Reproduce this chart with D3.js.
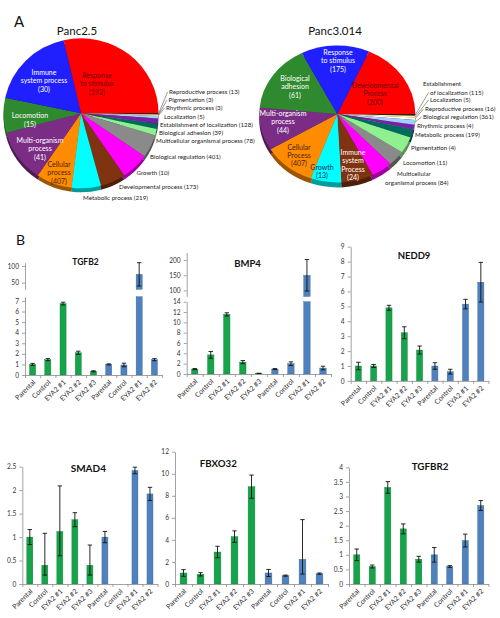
<!DOCTYPE html>
<html><head><meta charset="utf-8">
<script src="https://cdn.jsdelivr.net/npm/d3@7"></script>
<style>body{margin:0;background:#fff} svg{display:block} text{font-family:Lato,"Open Sans",sans-serif}</style>
</head><body><svg id="c" width="500" height="618"></svg>
<script>
// ================= DATA =================
// Panel A – GO biological process pies (slice shares in degrees, counts in labels)
const panc25Processes = ["Response to stimulus","Reproductive process","Pigmentation","Rhythmic process","Localization","Establishment of localization","Biological adhesion","Multicellular organismal process","Biological regulation","Growth","Developmental process","Metabolic process","Cellular process","Multi-organism process","Locomotion","Immune system process"];
const panc25Counts = [192,13,3,3,5,128,39,78,401,10,173,219,407,41,15,30];
const panc25Shares = [103,1,0.5,0.5,2,4,4,5,18,21,19,22,27,41,27,65];

const panc3Processes = ["Developmental Process","Establishment of localization","Localization","Reproductive process","Biological regulation","Rhythmic process","Metabolic process","Pigmentation","Locomotion","Multicellular organismal process","Immune system Process","Growth","Cellular Process","Multi-organism process","Biological adhesion","Response to stimulus"];
const panc3Counts = [200,115,5,16,361,4,199,4,11,84,24,13,407,44,61,175];
const panc3Shares = [66,1.5,1.5,2,4,4,7,14,13,16,24,23,39,36.5,57.5,51];

// Panel B – qPCR bar charts
const categories = ["Parental","Control","EYA2 #1","EYA2 #2","EYA2 #3","Parental","Control","EYA2 #1","EYA2 #2"];
const cellLine = ["green","green","green","green","green","blue","blue","blue","blue"];

const tgfb2Mean = [1.0,1.45,6.75,2.1,0.35,1.0,0.95,75,1.45];
const tgfb2Err  = [0.1,0.1,0.13,0.15,0.05,0.05,0.17,35,0.1];
const tgfb2Ticks = [0,1,2,3,4,5,6,7];
const tgfb2UpperTicks = [50,100];

const bmp4Mean = [0.95,3.7,11.55,2.3,0.1,0.95,2.0,150,1.15];
const bmp4Err  = [0.1,0.65,0.3,0.3,0.05,0.1,0.35,52,0.35];
const bmp4Ticks = [0,2,4,6,8,10,12,14];
const bmp4UpperTicks = [100,150,200];

const nedd9Mean = [1.0,1.0,4.9,3.23,2.07,1.0,0.62,5.15,6.62];
const nedd9Err  = [0.25,0.1,0.17,0.4,0.27,0.22,0.16,0.32,1.33];
const nedd9Ticks = [0,1,2,3,4,5,6,7,8,9];

const smad4Mean    = [1.0,0.4,1.12,1.37,0.4,1.0,null,2.42,1.92];
const smad4ErrUp   = [0.16,0.68,0.97,0.15,0.43,0.12,null,0.07,0.14];
const smad4ErrDown = [0.16,0.21,0.52,0.15,0.21,0.12,null,0.07,0.14];
const smad4Ticks = [0,0.5,1,1.5,2,2.5];

const fbxo32Mean    = [1.0,0.88,2.9,4.3,8.83,1.0,0.76,2.24,0.94];
const fbxo32ErrUp   = [0.3,0.15,0.52,0.52,1.05,0.32,0.05,3.6,0.06];
const fbxo32ErrDown = [0.3,0.15,0.52,0.52,1.05,0.32,0.05,1.34,0.06];
const fbxo32Ticks = [0,2,4,6,8,10,12];

const tgfbr2Mean = [1.0,0.6,3.31,1.89,0.85,1.0,0.6,1.49,2.69];
const tgfbr2Err  = [0.2,0.05,0.2,0.17,0.1,0.25,0.03,0.22,0.17];
const tgfbr2Ticks = [0,0.5,1,1.5,2,2.5,3,3.5,4];

// ================= STYLE =================
const palette = ["#ff0000","#222222","#ffff99","#ffffff","#9fd3ff","#7a1fa8","#006b5c","#8ff08f","#8a8a8a","#ff00ff","#7f3310","#00ffff","#ff8c00","#7b2d86","#2f8a2f","#1f1fff"];
const barColor = {green:"#17a34a", blue:"#4f81bd"};

const svg = d3.select("#c");

// ================= PIES =================
function wrapWords(str, counts){
  const w = str.split(" "); const out=[]; let k=0;
  for (const c of counts){ out.push(w.slice(k,k+c).join(" ")); k+=c; }
  if (k<w.length) out.push(w.slice(k).join(" "));
  return out;
}

function drawPie(cfg){
  const {names, counts, shares, startDeg, cx, cy, rx, ry, depth} = cfg;
  const pie = d3.pie().sort(null).value(d=>d)
    .startAngle(startDeg*Math.PI/180).endAngle((startDeg+360)*Math.PI/180);
  const arcs = pie(shares);
  const arc = d3.arc().innerRadius(0).outerRadius(rx);
  const sy = ry/rx;
  const sh = svg.append("g").attr("transform",`translate(${cx},${cy+depth}) scale(1,${sy})`);
  sh.selectAll("path").data(arcs).join("path").attr("d",arc)
    .attr("fill",(d,i)=>d3.color(palette[i]).darker(1.4));
  const g = svg.append("g").attr("transform",`translate(${cx},${cy}) scale(1,${sy})`);
  g.selectAll("path").data(arcs).join("path").attr("d",arc)
    .attr("fill",(d,i)=>palette[i]);

  const label = i => names[i] + " (" + counts[i] + ")";
  // internal labels
  cfg.inner.forEach(L=>{
    const lines = wrapWords(label(L.i), L.br);
    const lh = 8.4;
    const t = svg.append("text").attr("text-anchor","middle").attr("font-size",7)
      .attr("fill",L.fill);
    lines.forEach((s,k)=>{
      t.append("tspan").attr("x",L.x).attr("y",L.y + (k-(lines.length-1)/2)*lh + 2.4).text(s);
    });
  });
  // external labels
  cfg.outer.forEach(L=>{
    const lines = L.br ? wrapWords(label(L.i), L.br) : [label(L.i)];
    lines.forEach((s,k)=>{
      svg.append("text").attr("x",L.x[k]).attr("y",L.y + k*8.6 + 2.1)
        .attr("font-size",6.2).attr("fill","#222").text(s);
    });
    if (L.leader){
      const a = (arcs[L.i].startAngle+arcs[L.i].endAngle)/2;
      const px = cx + rx*Math.sin(a), py = cy - ry*Math.cos(a);
      svg.append("line").attr("x1",px).attr("y1",py)
        .attr("x2",L.x[L.leader-1]-1.5).attr("y2",L.y + (L.leader-1)*8.6)
        .attr("stroke","#555").attr("stroke-width",0.6);
    }
  });
}

svg.append("text").attr("x",14).attr("y",27).attr("font-size",15).attr("fill","#111").text("A");
svg.append("text").attr("x",77).attr("y",35).attr("font-size",11.5).attr("text-anchor","middle").attr("fill","#111").text("Panc2.5");
svg.append("text").attr("x",335).attr("y",34.5).attr("font-size",11.5).attr("text-anchor","middle").attr("fill","#111").text("Panc3.014");

drawPie({names:panc25Processes, counts:panc25Counts, shares:panc25Shares, startDeg:-13,
  cx:81, cy:113.3, rx:77.5, ry:75, depth:4,
  inner:[
    {i:0,  x:97, y:84,  br:[1,2,1], fill:"#6b0000"},
    {i:15, x:44, y:81,  br:[1,2,1], fill:"#ffffff"},
    {i:14, x:30, y:120, br:[1,1],   fill:"#ffffff"},
    {i:13, x:40, y:149, br:[1,1,1], fill:"#ffffff"},
    {i:12, x:59, y:173, br:[1,1,1], fill:"#4a2000"}
  ],
  outer:[
    {i:1, x:[169], y:92, leader:1},
    {i:2, x:[168.5], y:100, leader:1},
    {i:3, x:[166], y:108, leader:1},
    {i:4, x:[164], y:116.5},
    {i:5, x:[160], y:124.5},
    {i:6, x:[159], y:133},
    {i:7, x:[156], y:141},
    {i:8, x:[150], y:157},
    {i:9, x:[136.5], y:173},
    {i:10, x:[119], y:187},
    {i:11, x:[83], y:198}
  ]});

drawPie({names:panc3Processes, counts:panc3Counts, shares:panc3Shares, startDeg:24,
  cx:337.3, cy:114, rx:78, ry:68.5, depth:5,
  inner:[
    {i:15, x:338, y:61,  br:[1,2,1], fill:"#ffffff"},
    {i:14, x:295, y:87,  br:[1,1,1], fill:"#ffffff"},
    {i:0,  x:375, y:94,  br:[1,1,1], fill:"#6b0000"},
    {i:13, x:283, y:122, br:[1,1,1], fill:"#ffffff"},
    {i:12, x:299, y:155.5, br:[1,1,1], fill:"#4a2000"},
    {i:11, x:322, y:171.5, br:[1,1], fill:"#1a2a55"},
    {i:10, x:353, y:165, br:[1,1,1,1], fill:"#ffffff"}
  ],
  outer:[
    {i:1, x:[423,430], y:84, br:[1], leader:2},
    {i:2, x:[430], y:100, leader:1},
    {i:3, x:[425], y:109, leader:1},
    {i:4, x:[423], y:117, leader:1},
    {i:5, x:[417], y:126},
    {i:6, x:[415], y:135},
    {i:7, x:[411], y:148},
    {i:8, x:[403], y:163},
    {i:9, x:[397,385], y:174, br:[1]}
  ]});

// ================= BARS =================
svg.append("text").attr("x",16).attr("y",245).attr("font-size",14).attr("fill","#111").text("B");

const panels = [
  {title:"TGFB2", tsize:8.5, tx:85.5, ty:265, mean:tgfb2Mean, up:tgfb2Err, down:tgfb2Err,
   x0:25, x1:162, base:375, top:296.7, dom:[0,7.4], ticks:tgfb2Ticks,
   upper:{dom:[30,110], bottom:289.3, top:262.7, ticks:tgfb2UpperTicks}},
  {title:"BMP4", tsize:9.5, tx:247.5, ty:266.5, mean:bmp4Mean, up:bmp4Err, down:bmp4Err,
   x0:186.7, x1:331, base:374, top:301.7, dom:[0,14], ticks:bmp4Ticks,
   upper:{dom:[80,225], bottom:296.5, top:252.5, ticks:bmp4UpperTicks}},
  {title:"NEDD9", tsize:9.5, tx:414, ty:258.5, mean:nedd9Mean, up:nedd9Err, down:nedd9Err,
   x0:350.7, x1:488.5, base:380.9, top:246.7, dom:[0,9], ticks:nedd9Ticks},
  {title:"SMAD4", tsize:10, tx:88.3, ty:471.5, mean:smad4Mean, up:smad4ErrUp, down:smad4ErrDown,
   x0:22.3, x1:157.5, base:584, top:466.7, dom:[0,2.5], ticks:smad4Ticks},
  {title:"FBXO32", tsize:9.7, tx:218.3, ty:466.5, mean:fbxo32Mean, up:fbxo32ErrUp, down:fbxo32ErrDown,
   x0:175, x1:328, base:584, top:451.7, dom:[0,12], ticks:fbxo32Ticks},
  {title:"TGFBR2", tsize:9.8, tx:430, ty:470, mean:tgfbr2Mean, up:tgfbr2Err, down:tgfbr2Err,
   x0:349, x1:488.5, base:584, top:467.3, dom:[0,4], ticks:tgfbr2Ticks}
];

function styleAxis(sel, fs){
  sel.selectAll("path.domain").attr("stroke","#8a8a8a").attr("stroke-width",0.8);
  sel.selectAll(".tick line").attr("stroke","#8a8a8a").attr("stroke-width",0.8);
  sel.selectAll(".tick text").attr("font-size",fs||6.6).attr("fill","#333").attr("font-family","Lato, sans-serif");
}

function errorBar(g, xc, y1, y2, capTop, capBot){
  g.append("line").attr("x1",xc).attr("x2",xc).attr("y1",y1).attr("y2",y2).attr("stroke","#111").attr("stroke-width",0.9);
  if (capTop) g.append("line").attr("x1",xc-2.2).attr("x2",xc+2.2).attr("y1",y1).attr("y2",y1).attr("stroke","#111").attr("stroke-width",0.9);
  if (capBot) g.append("line").attr("x1",xc-2.2).attr("x2",xc+2.2).attr("y1",y2).attr("y2",y2).attr("stroke","#111").attr("stroke-width",0.9);
}

panels.forEach(p=>{
  const g = svg.append("g");
  const n = categories.length;
  const x = d3.scaleBand().domain(d3.range(n)).range([p.x0,p.x1]).paddingInner(0.6).paddingOuter(0.3);
  const y = d3.scaleLinear().domain(p.dom).range([p.base,p.top]);
  const yU = p.upper ? d3.scaleLinear().domain(p.upper.dom).range([p.upper.bottom,p.upper.top]) : null;

  // bars
  p.mean.forEach((v,i)=>{
    if (v===null || v===undefined) return;
    const col = barColor[cellLine[i]];
    const bx = x(i), bw = x.bandwidth(), xc = bx + bw/2;
    if (yU && v > p.dom[1]){
      g.append("rect").attr("x",bx).attr("width",bw).attr("y",y(p.dom[1])).attr("height",y(0)-y(p.dom[1]))
        .attr("fill",col).attr("stroke",d3.color(col).darker(0.6)).attr("stroke-width",0.4);
      g.append("rect").attr("x",bx).attr("width",bw).attr("y",yU(v)).attr("height",yU(p.upper.dom[0])-yU(v))
        .attr("fill",col).attr("stroke",d3.color(col).darker(0.6)).attr("stroke-width",0.4);
      const hi = v + p.up[i], lo = Math.max(v - p.down[i], p.upper.dom[0]);
      errorBar(g, xc, yU(hi), yU(lo), true, lo > p.upper.dom[0]);
    } else {
      g.append("rect").attr("x",bx).attr("width",bw).attr("y",y(v)).attr("height",y(0)-y(v))
        .attr("fill",col).attr("stroke",d3.color(col).darker(0.6)).attr("stroke-width",0.4);
      const hi = v + p.up[i], lo = Math.max(v - p.down[i], 0);
      errorBar(g, xc, y(hi), y(lo), true, true);
    }
  });

  // y axis
  const ya = g.append("g").attr("transform",`translate(${p.x0},0)`)
    .call(d3.axisLeft(y).tickValues(p.ticks).tickSize(3).tickSizeOuter(0).tickPadding(3).tickFormat(d3.format("~g")));
  styleAxis(ya);
  if (yU){
    const yb = g.append("g").attr("transform",`translate(${p.x0},0)`)
      .call(d3.axisLeft(yU).tickValues(p.upper.ticks).tickSize(3).tickSizeOuter(0).tickPadding(3).tickFormat(d3.format("~g")));
    styleAxis(yb);
  }
  // x axis
  const xa = g.append("g").attr("transform",`translate(0,${p.base})`)
    .call(d3.axisBottom(x).tickSize(0).tickSizeOuter(0).tickFormat(i=>categories[i]));
  styleAxis(xa, 7);
  xa.selectAll(".tick text").attr("x",0).attr("y",0).attr("dy","0.35em")
    .attr("text-anchor","end").attr("transform","translate(1.5,6) rotate(-45)");
  // category boundary tick marks
  const b = g.append("g").attr("transform",`translate(0,${p.base})`)
    .call(d3.axisBottom(d3.scaleLinear().domain([0,n]).range([p.x0,p.x1])).tickValues(d3.range(n+1)).tickSize(3).tickSizeOuter(0).tickFormat(""));
  b.select("path.domain").remove();
  styleAxis(b);

  // title
  g.append("text").attr("x",p.tx).attr("y",p.ty).attr("text-anchor","middle")
    .attr("font-size",p.tsize).attr("font-weight","bold").attr("fill","#111").text(p.title);
});
</script>
</body></html>
